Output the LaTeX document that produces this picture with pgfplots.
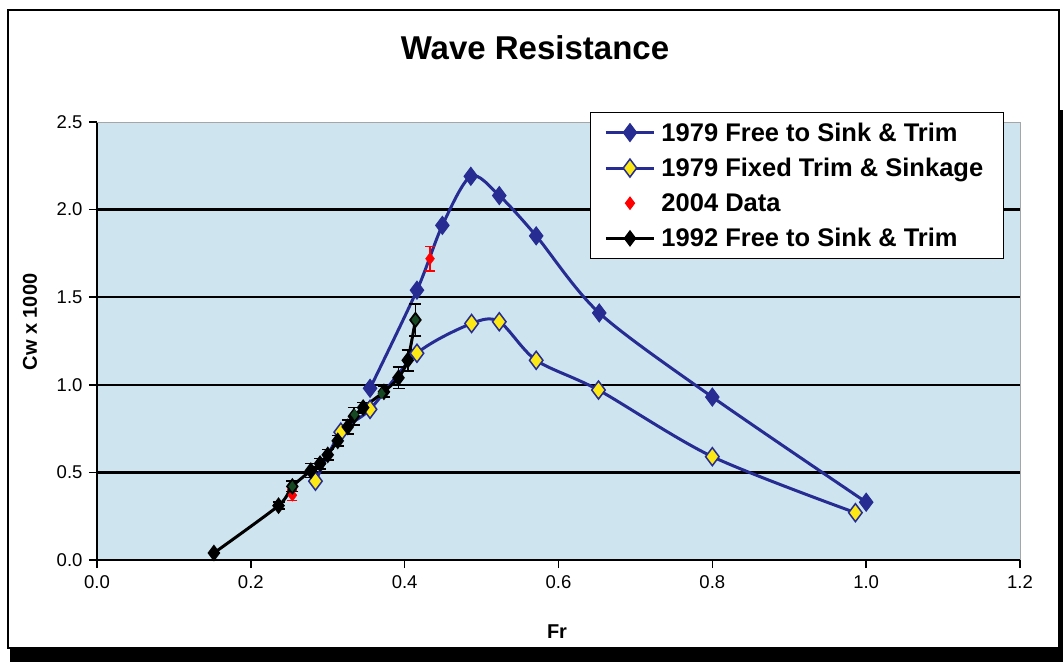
\documentclass[border=0pt]{standalone}
\usepackage{pgfplots}
\pgfplotsset{compat=1.18}
\usepackage{fontspec}
\setmainfont{Liberation Sans}

\definecolor{navyline}{RGB}{38,44,145}
\definecolor{markyellow}{RGB}{252,232,20}
\definecolor{plotbg}{RGB}{206,228,239}
\definecolor{darkgreen}{RGB}{22,72,34}

\begin{document}
\begin{tikzpicture}[x=1pt,y=1pt]
\useasboundingbox (-97,-102) rectangle (966,560);
% chart frame and its shadow
\fill[black] (-87,-102) rectangle (966,-89);
\fill[black] (962,-102) rectangle (966,450);
\fill[white] (-89,-88) rectangle (962,550);
\draw[black, line width=1.2pt] (-89,-88) rectangle (962,550);

\begin{axis}[
  at={(0,0)}, anchor=south west,
  scale only axis, width=923pt, height=438pt,
  xmin=0, xmax=1.2, ymin=0, ymax=2.5,
  xtick={0,0.2,...,1.2}, ytick={0,0.5,...,2.5},
  axis x line*=bottom, axis y line*=left,
  axis line style={black, line width=2pt, -},
  tick align=outside, major tick length=8pt,
  tick style={black, line width=1.5pt},
  extra y ticks={0.5,1,1.5,2}, extra y tick labels={},
  extra y tick style={grid=major, major grid style={black, line width=2.2pt}, tick style={draw=none}},
  axis background/.style={fill=plotbg},
  xticklabel={\pgfmathprintnumber[fixed,fixed zerofill,precision=1,assume math mode=true]{\tick}},
  yticklabel={\pgfmathprintnumber[fixed,fixed zerofill,precision=1,assume math mode=true]{\tick}},
  ticklabel style={font=\fontsize{18.5}{20}\selectfont},
  xticklabel style={yshift=-4pt},
  yticklabel style={xshift=-3pt},
  legend style={at={(0.534,1.0228)}, anchor=north west, draw=black, line width=1.2pt,
    fill=white, font=\fontsize{25.5}{29}\selectfont\bfseries, row sep=11.5pt,
    inner xsep=14pt, inner ysep=8pt,
    nodes={inner xsep=6pt}},
  legend cell align=left,
  legend image code/.code={\draw[mark repeat=2,mark phase=2] plot coordinates {(0pt,0pt) (24pt,0pt) (48pt,0pt)};},
  clip=false,
]
% light border on the open sides of the plot area
\draw[gray!70, line width=0.8pt] (rel axis cs:0,1) -- (rel axis cs:1,1) -- (rel axis cs:1,0);

% 1979, model free to sink and trim
\addplot[navyline, line width=3pt, smooth, tension=0.5, mark=diamond*, mark size=9pt,
  mark options={fill=navyline, draw=navyline, line width=1pt}]
  coordinates {(0.355,0.98) (0.416,1.54) (0.449,1.91) (0.486,2.19) (0.523,2.08)
               (0.571,1.85) (0.653,1.41) (0.800,0.93) (1.000,0.33)};
\addlegendentry{1979 Free to Sink \& Trim}

% 1979, fixed trim and sinkage
\addplot[navyline, line width=3pt, smooth, tension=0.5, mark=diamond*, mark size=9pt,
  mark options={fill=markyellow, draw=navyline, line width=1.5pt}]
  coordinates {(0.284,0.45) (0.317,0.73) (0.355,0.86) (0.416,1.18) (0.487,1.35)
               (0.523,1.36) (0.571,1.14) (0.652,0.97) (0.800,0.59) (0.986,0.27)};
\addlegendentry{1979 Fixed Trim \& Sinkage}

% 2004 measurements with uncertainty
\addplot[red, only marks, mark=diamond*, mark size=6pt, mark options={fill=red, draw=red},
  error bars/.cd, y dir=both, y explicit,
  error bar style={red, line width=1.6pt},
  error mark options={red, rotate=90, mark size=5pt, line width=1.6pt}]
  coordinates {(0.254,0.37) +- (0,0.03) (0.433,1.72) +- (0,0.07)};
\addlegendentry{2004 Data}

% 1992, model free to sink and trim
\addplot[black, line width=3pt, smooth, tension=0.4, mark=diamond*, mark size=6pt,
  mark options={fill=black, draw=black},
  error bars/.cd, y dir=both, y explicit,
  error bar style={black, line width=1.6pt},
  error mark options={black, rotate=90, mark size=6pt, line width=1.6pt}]
  coordinates {(0.152,0.04) +- (0,0.0) (0.236,0.31) +- (0,0.02) (0.254,0.42) +- (0,0.03)
               (0.278,0.51) +- (0,0.04) (0.290,0.55) +- (0,0.03) (0.300,0.60) +- (0,0.03)
               (0.313,0.68) +- (0,0.03) (0.326,0.76) +- (0,0.04) (0.334,0.82) +- (0,0.05)
               (0.346,0.87) +- (0,0.03) (0.373,0.96) +- (0,0.03) (0.392,1.04) +- (0,0.06)
               (0.404,1.14) +- (0,0.06) (0.414,1.37) +- (0,0.09)};
\addlegendentry{1992 Free to Sink \& Trim}

% individual 1992 repeat runs
\addplot[darkgreen, only marks, mark=diamond*, mark size=5pt, mark options={fill=darkgreen},
  forget plot]
  coordinates {(0.254,0.42) (0.335,0.83) (0.370,0.95) (0.414,1.37)};

\end{axis}

\node[font=\fontsize{33}{38}\selectfont\bfseries] at (438,512) {Wave Resistance};
\node[font=\fontsize{20}{24}\selectfont\bfseries, rotate=90] at (-67,238) {Cw x 1000};
\node[font=\fontsize{20}{24}\selectfont\bfseries] at (460,-72) {Fr};
\end{tikzpicture}
\end{document}
